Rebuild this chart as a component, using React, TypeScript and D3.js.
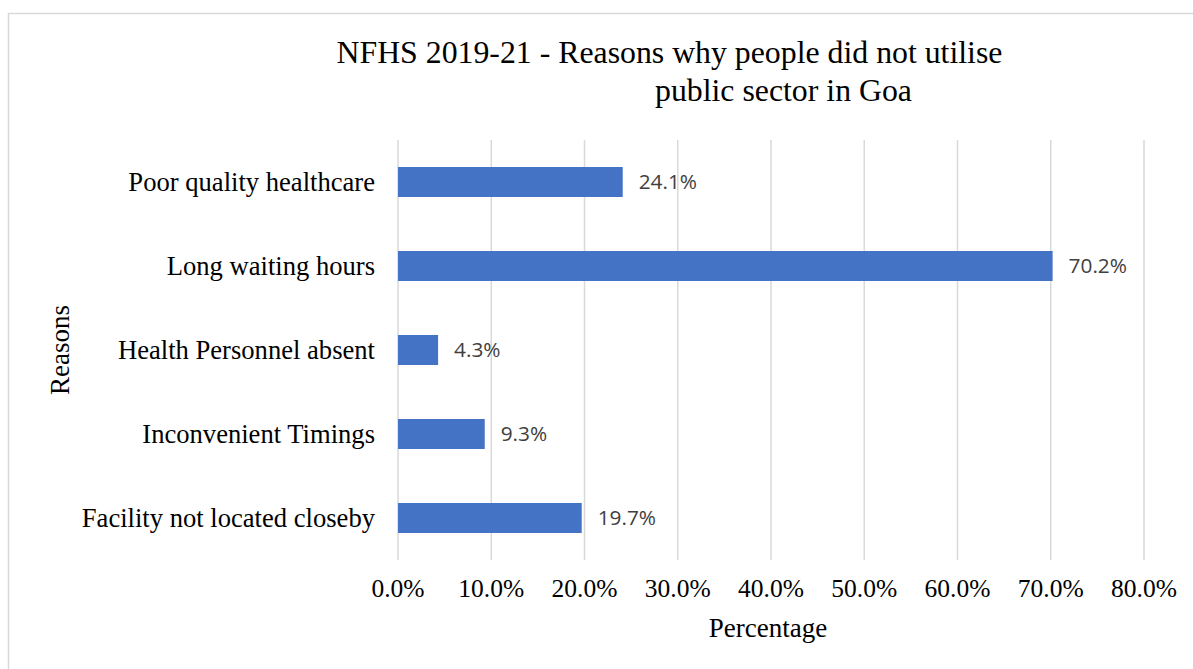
import React from "react";
import * as d3 from "d3";

const categories = [
  "Poor quality healthcare",
  "Long waiting hours",
  "Health Personnel absent",
  "Inconvenient Timings",
  "Facility not located closeby",
];
const values = [24.1, 70.2, 4.3, 9.3, 19.7];
const ticks = [0, 10, 20, 30, 40, 50, 60, 70, 80];
const titleLines = ["NFHS 2019-21 - Reasons why people did not utilise", "public sector in Goa"];
const xTitle = "Percentage";
const yTitle = "Reasons";

const W = 1193;
const H = 669;
const serif = "'Liberation Serif', 'Times New Roman', serif";
const sans = "'Open Sans', 'Liberation Sans', sans-serif";

export default function App() {
  const x = d3.scaleLinear().domain([0, 80]).range([398, 1144]);
  const y = d3
    .scaleBand<string>()
    .domain(categories)
    .range([140, 560])
    .paddingInner(0.643)
    .paddingOuter(0.3215);
  const fmt = (v: number) => d3.format(".1f")(v) + "%";

  return (
    <svg
      width={W}
      height={H}
      style={{ position: "absolute", left: 0, top: 0, background: "#fff" }}
    >
      <rect x={0} y={0} width={W} height={H} fill="#fff" />
      <rect
        x={8.5}
        y={13.5}
        width={1300}
        height={800}
        fill="none"
        stroke="#d9d9d9"
        strokeWidth={1.5}
      />
      <text fontFamily={serif} fontSize={31.8} fill="#000">
        <tspan x={336.5} y={63}>{titleLines[0]}</tspan>
        <tspan x={655} y={101}>{titleLines[1]}</tspan>
      </text>
      {ticks.map((t) => (
        <g key={t}>
          <line
            x1={x(t)}
            x2={x(t)}
            y1={140}
            y2={560}
            stroke="#d9d9d9"
            strokeWidth={1.5}
          />
          <text
            x={x(t)}
            y={597}
            textAnchor="middle"
            fontFamily={serif}
            fontSize={25.5}
            fill="#000"
          >
            {fmt(t)}
          </text>
        </g>
      ))}
      {categories.map((c, i) => {
        const yy = y(c)!;
        const bh = y.bandwidth();
        const v = values[i];
        return (
          <g key={c}>
            <rect x={x(0)} y={yy} width={x(v) - x(0)} height={bh} fill="#4472C4" />
            <text
              x={375}
              y={yy + bh / 2}
              dy="0.33em"
              textAnchor="end"
              fontFamily={serif}
              fontSize={26.6}
              fill="#000"
            >
              {c}
            </text>
            <text
              x={x(v) + 16}
              y={yy + bh / 2}
              dy="0.36em"
              fontFamily={sans}
              fontSize={20.8}
              fill="#404040"
            >
              {fmt(v)}
            </text>
          </g>
        );
      })}
      <text
        x={768}
        y={637}
        textAnchor="middle"
        fontFamily={serif}
        fontSize={27}
        fill="#000"
      >
        {xTitle}
      </text>
      <text
        transform={`translate(69,350) rotate(-90)`}
        textAnchor="middle"
        fontFamily={serif}
        fontSize={27}
        fill="#000"
      >
        {yTitle}
      </text>
    </svg>
  );
}
